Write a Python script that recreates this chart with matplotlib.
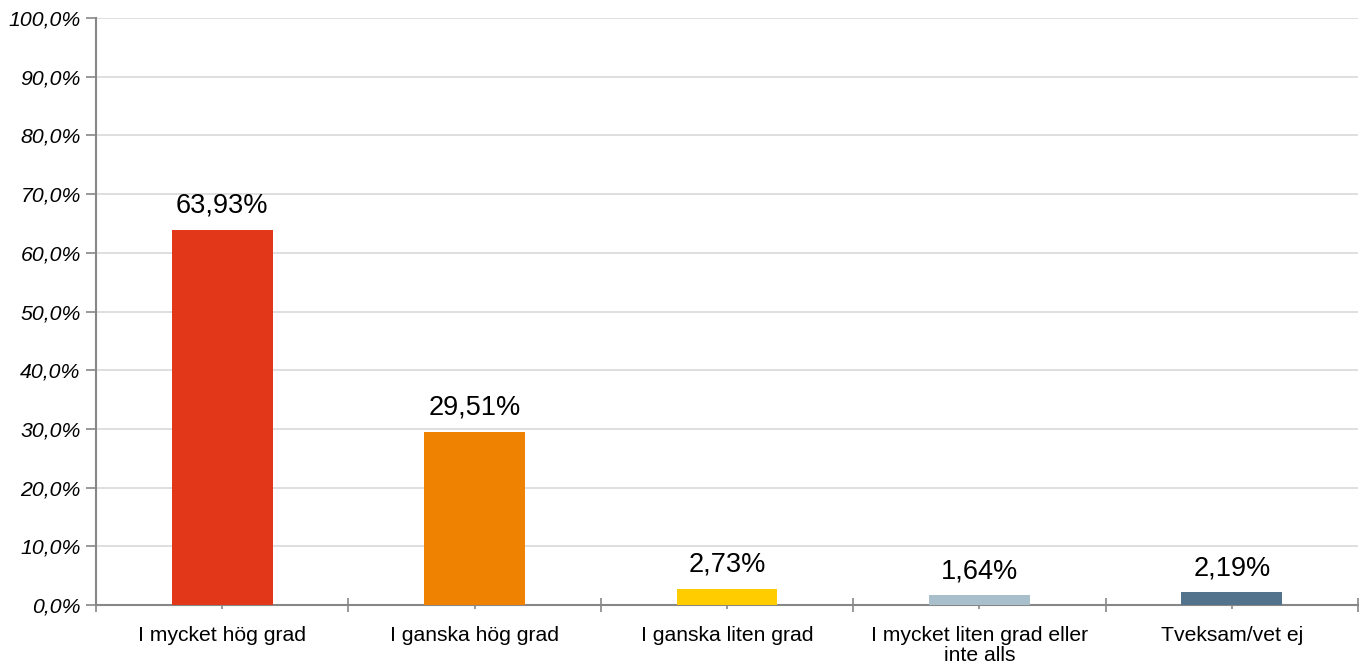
import numpy as np
import matplotlib.pyplot as plt
from matplotlib.ticker import FixedLocator, FuncFormatter

plt.rcParams['font.family'] = ['Liberation Sans', 'DejaVu Sans']

categories = ['I mycket hög grad', 'I ganska hög grad', 'I ganska liten grad',
              'I mycket liten grad eller\ninte alls', 'Tveksam/vet ej']
values = [63.93, 29.51, 2.73, 1.64, 2.19]
labels = ['63,93%', '29,51%', '2,73%', '1,64%', '2,19%']
colors = ['#E3371A', '#EF8200', '#FFCC00', '#A9BFCC', '#53728B']
yticks = np.arange(0, 101, 10)

fig = plt.figure(figsize=(13.66, 6.66), dpi=100)
ax = fig.add_axes([96/1366, 61/666, 1262/1366, 587/666])

x = np.arange(len(categories))
bars = ax.bar(x, values, width=0.4, color=colors, zorder=3)

for b, lab in zip(bars, labels):
    ax.annotate(lab, (b.get_x() + b.get_width()/2, b.get_height()),
                xytext=(0, 8), textcoords='offset points',
                ha='center', va='bottom', fontsize=19.5, color='#000000')

ax.set_xlim(-0.5, len(categories) - 0.5)
ax.set_ylim(0, 100)
ax.set_yticks(yticks)
ax.yaxis.set_major_formatter(FuncFormatter(lambda v, p: f'{v:.1f}'.replace('.', ',') + '%'))
ax.grid(axis='y', color='#D9D9D9', lw=1.2, zorder=0)

ax.set_xticks(x)
ax.set_xticklabels(categories, fontsize=15.2, linespacing=1.05)
ax.xaxis.set_minor_locator(FixedLocator(np.arange(-0.5, len(categories), 1)))

for s in ['top', 'right']:
    ax.spines[s].set_visible(False)
for s in ['left', 'bottom']:
    ax.spines[s].set_color('#878787')
    ax.spines[s].set_linewidth(1.5)

ax.tick_params(axis='y', which='major', length=7, width=1.2, color='#878787',
               labelsize=15.3, pad=4)
for t in ax.get_yticklabels():
    t.set_fontstyle('italic')
ax.tick_params(axis='x', which='major', direction='inout', length=6, width=1.2,
               color='#878787', pad=12)
ax.tick_params(axis='x', which='minor', direction='inout', length=10, width=1.2,
               color='#878787')

plt.savefig('out.png', dpi=100)
